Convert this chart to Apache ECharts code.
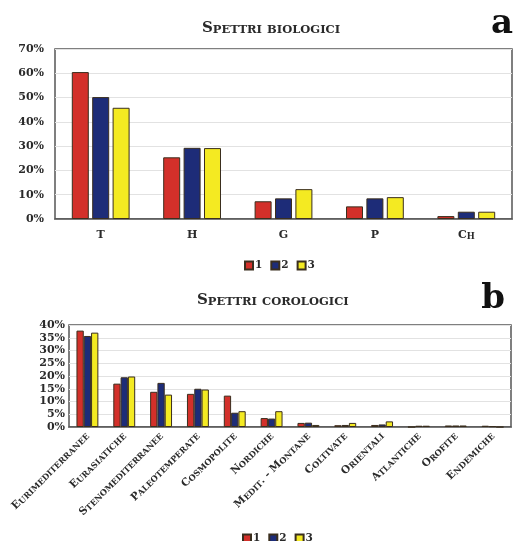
<!DOCTYPE html>
<html><head><meta charset="utf-8">
<script src="https://cdn.jsdelivr.net/npm/echarts@6/dist/echarts.min.js"></script>
<style>html,body{margin:0;padding:0;background:#fff}#c{width:515px;height:541px}</style>
</head><body><div id="c"></div>
<script>
// ---- data ----
const seriesNames = ['1', '2', '3'];
const bioCategories = ['T', 'H', 'G', 'P', 'Ch'];
const bio1 = [60.5, 25.4, 7.3, 5.2, 1.2];
const bio2 = [50.2, 29.3, 8.5, 8.5, 3.0];
const bio3 = [45.8, 29.2, 12.3, 9.0, 3.0];
const bioTicks = [0, 10, 20, 30, 40, 50, 60, 70];

const coroCategories = ['Eurimediterranee', 'Eurasiatiche', 'Stenomediterranee', 'Paleotemperate',
  'Cosmopolite', 'Nordiche', 'Medit. - Montane', 'Coltivate', 'Orientali', 'Atlantiche', 'Orofite', 'Endemiche'];
const coro1 = [37.8, 17.0, 13.8, 13.0, 12.3, 3.5, 1.6, 0.7, 0.8, 0.0, 0.6, 0.5];
const coro2 = [35.7, 19.5, 17.3, 15.0, 5.6, 3.3, 1.7, 0.8, 1.0, 0.5, 0.6, 0.3];
const coro3 = [37.0, 19.8, 12.7, 14.7, 6.2, 6.2, 0.8, 1.6, 2.2, 0.5, 0.6, 0.0];
const coroTicks = [0, 5, 10, 15, 20, 25, 30, 35, 40];

const titleA = 'Spettri biologici';
const titleB = 'Spettri corologici';

// ---- styling ----
const FONT = '"DejaVu Serif", serif';
const TXT = '#2a2a2a';
const colors = ['#d3302a', '#1d2c78', '#f4ea22'];
const edge = '#3a2e1e';

// small caps: uppercase chars big, lowercase chars rendered as smaller capitals
function smallCaps(s) {
  let out = '', cur = null, buf = '';
  for (const ch of s) {
    const low = ch !== ch.toUpperCase();
    const t = low ? 's' : 'B';
    if (t !== cur) { if (buf) out += '{' + cur + '|' + buf + '}'; buf = ''; cur = t; }
    buf += low ? ch.toUpperCase() : ch;
  }
  if (buf) out += '{' + cur + '|' + buf + '}';
  return out;
}
function rich(big, small) {
  return {
    B: { fontFamily: FONT, fontWeight: 'bold', fontSize: big, color: TXT, verticalAlign: 'bottom' },
    s: { fontFamily: FONT, fontWeight: 'bold', fontSize: small, color: TXT, verticalAlign: 'bottom' }
  };
}

const chart = echarts.init(document.getElementById('c'), null, { renderer: 'canvas' });

function barSeries(name, data, xi, width, gap, idx) {
  return {
    type: 'bar', name: name, data: data, xAxisIndex: xi, yAxisIndex: xi,
    barWidth: width, barGap: gap,
    itemStyle: { color: colors[idx], borderColor: edge, borderWidth: 1 },
    emphasis: { disabled: true }
  };
}

const legendText = { fontFamily: FONT, fontWeight: 'bold', fontSize: 10.5, color: TXT, padding: [0, 0, 0, -3] };

const option = {
  backgroundColor: '#fff',
  animation: false,
  title: [
    { text: smallCaps(titleA), left: 197, top: 16, textStyle: { rich: rich(15, 11.5) } },
    { text: smallCaps(titleB), left: 192, top: 288, textStyle: { rich: rich(15, 11.5) } },
    { text: 'a', right: -3, top: 2, textStyle: { fontFamily: FONT, fontWeight: 'bold', fontSize: 34, color: '#111' } },
    { text: 'b', right: 5, top: 277, textStyle: { fontFamily: FONT, fontWeight: 'bold', fontSize: 34, color: '#111' } }
  ],
  legend: [
    { data: seriesNames, top: 255, left: 239, itemWidth: 8, itemHeight: 8, itemGap: 8,
      icon: 'rect', textStyle: legendText },
    { data: seriesNames, top: 528, left: 237, itemWidth: 8, itemHeight: 8, itemGap: 8,
      icon: 'rect', textStyle: legendText }
  ],
  grid: [
    { left: 55, right: 3, top: 49, bottom: 322, show: true, borderColor: '#555', borderWidth: 1.5, containLabel: false },
    { left: 69, right: 4, top: 325, bottom: 114, show: true, borderColor: '#555', borderWidth: 1.5, containLabel: false }
  ],
  xAxis: [
    { type: 'category', gridIndex: 0, data: bioCategories,
      axisLine: { lineStyle: { color: '#555', width: 1.5 } }, axisTick: { show: false },
      axisLabel: { margin: 11, formatter: v => smallCaps(v), rich: rich(11, 8.5) } },
    { type: 'category', gridIndex: 1, data: coroCategories,
      axisLine: { lineStyle: { color: '#555', width: 1.5 } }, axisTick: { show: false },
      axisLabel: { margin: 7, rotate: 45, interval: 0, formatter: v => smallCaps(v), rich: rich(10.5, 8.2) } }
  ],
  yAxis: [
    { type: 'value', gridIndex: 0, min: bioTicks[0], max: bioTicks[bioTicks.length - 1], interval: 10,
      axisLine: { show: false }, axisTick: { show: false },
      splitLine: { lineStyle: { color: '#e2e2e2', width: 1 } },
      axisLabel: { margin: 11, formatter: '{value}%', fontFamily: FONT, fontWeight: 'bold', fontSize: 11, color: TXT } },
    { type: 'value', gridIndex: 1, min: coroTicks[0], max: coroTicks[coroTicks.length - 1], interval: 5,
      axisLine: { show: false }, axisTick: { show: false },
      splitLine: { lineStyle: { color: '#e2e2e2', width: 1 } },
      axisLabel: { margin: 4, formatter: '{value}%', fontFamily: FONT, fontWeight: 'bold', fontSize: 11, color: TXT, lineHeight: 11 } }
  ],
  series: [
    barSeries(seriesNames[0], bio1, 0, 17, '20%', 0),
    barSeries(seriesNames[1], bio2, 0, 17, '20%', 1),
    barSeries(seriesNames[2], bio3, 0, 17, '20%', 2),
    barSeries(seriesNames[0], coro1, 1, 7.3, '0%', 0),
    barSeries(seriesNames[1], coro2, 1, 7.3, '0%', 1),
    barSeries(seriesNames[2], coro3, 1, 7.3, '0%', 2)
  ]
};
chart.setOption(option);
</script>
</body></html>
